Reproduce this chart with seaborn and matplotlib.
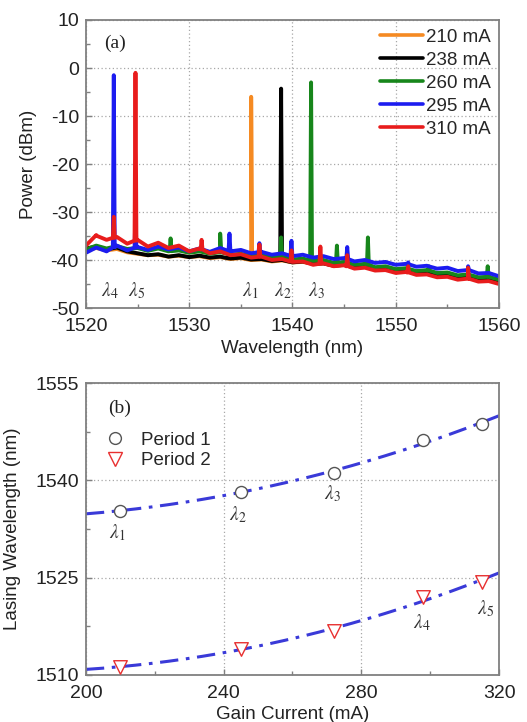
import numpy as np
import pandas as pd
import matplotlib
matplotlib.use('Agg')
import matplotlib.pyplot as plt
from matplotlib.ticker import MultipleLocator, FixedLocator
from matplotlib.lines import Line2D
import seaborn as sns

# ---------------- data: panel (a) spectra ----------------
currents = ['210 mA', '238 mA', '260 mA', '295 mA', '310 mA']
colors = ['#f58a22', '#000000', '#17861b', '#1c1cf0', '#e81c1c']
knot_wl = list(range(1520, 1561))
base_210 = [-37.9, -37.5, -38.0, -37.7, -38.4, -38.7, -39.0, -38.9, -39.3, -39.1,
            -39.4, -39.2, -39.6, -39.4, -39.8, -39.6, -40.0, -39.9, -40.3, -40.1,
            -40.5, -40.4, -40.8, -40.7, -41.2, -41.0, -41.5, -41.4, -41.9, -41.8,
            -42.3, -42.2, -42.7, -42.6, -43.1, -43.0, -43.5, -43.4, -43.9, -43.8, -44.3]
base_238 = [-37.6, -37.2, -37.8, -37.4, -38.2, -38.6, -39.0, -38.8, -39.3, -39.0,
            -39.4, -39.1, -39.5, -39.3, -39.7, -39.5, -39.9, -39.8, -40.2, -40.0,
            -40.5, -40.3, -40.8, -40.7, -41.2, -41.0, -41.6, -41.4, -42.0, -41.9,
            -42.4, -42.3, -42.8, -42.7, -43.2, -43.1, -43.6, -43.5, -44.0, -43.9, -44.5]
base_260 = [-37.8, -37.0, -37.6, -37.1, -37.7, -37.5, -38.1, -37.6, -38.2, -38.0,
            -38.5, -38.2, -38.7, -38.4, -38.9, -38.7, -39.2, -39.0, -39.5, -39.3,
            -39.9, -39.7, -40.2, -40.0, -40.6, -40.4, -41.0, -40.8, -41.5, -41.3,
            -41.9, -41.7, -42.3, -42.1, -42.7, -42.6, -43.2, -43.0, -43.6, -43.5, -44.1]
base_295 = [-38.5, -37.4, -38.2, -37.0, -38.0, -37.3, -37.9, -37.2, -37.8, -37.4,
            -38.2, -37.6, -38.3, -37.5, -38.2, -37.9, -38.6, -38.3, -38.9, -38.6,
            -39.2, -38.9, -39.5, -39.2, -39.8, -39.6, -40.3, -40.0, -40.6, -40.4,
            -41.0, -40.8, -41.4, -41.2, -41.8, -41.6, -42.3, -42.1, -42.8, -42.7, -43.4]
base_310 = [-37.0, -35.0, -35.8, -35.2, -36.6, -35.8, -37.2, -36.4, -37.5, -37.0,
            -38.2, -37.6, -38.6, -38.2, -39.0, -38.8, -39.5, -39.3, -40.0, -39.8,
            -40.4, -40.3, -41.0, -40.7, -41.3, -41.1, -41.8, -41.6, -42.2, -42.1,
            -42.7, -42.5, -43.1, -43.0, -43.6, -43.5, -44.1, -43.9, -44.5, -44.4, -45.0]

peak_wl_210 = [1536.0]
peak_db_210 = [-6.0]
peak_wl_238 = [1533.9, 1538.9]
peak_db_238 = [-37.0, -4.3]
peak_wl_260 = [1528.2, 1533.0, 1538.9, 1541.8, 1544.3, 1547.3, 1553.2, 1558.9]
peak_db_260 = [-35.5, -34.5, -35.3, -3.0, -37.0, -35.3, -41.3, -41.3]
peak_wl_295 = [1522.7, 1524.8, 1533.9, 1536.8, 1539.9, 1545.3, 1551.2, 1557.0]
peak_db_295 = [-1.5, -30.0, -34.5, -36.5, -36.0, -37.3, -40.5, -41.3]
peak_wl_310 = [1521.0, 1522.7, 1524.8, 1531.2, 1536.8, 1539.9, 1542.7, 1545.3, 1551.2, 1557.0]
peak_db_310 = [-34.8, -31.0, -1.0, -35.8, -36.8, -38.0, -37.2, -39.0, -41.3, -41.6]

# ---------------- data: panel (b) ----------------
cur_p1 = [210, 245, 272, 298, 315]
wl_p1 = [1535.35, 1538.2, 1541.2, 1546.15, 1548.7]
cur_p2 = [210, 245, 272, 298, 315]
wl_p2 = [1511.3, 1514.0, 1516.8, 1522.0, 1524.4]
yticks_b = [1510, 1525, 1540, 1555]

bases = [base_210, base_238, base_260, base_295, base_310]
peaks = [(peak_wl_210, peak_db_210), (peak_wl_238, peak_db_238), (peak_wl_260, peak_db_260),
         (peak_wl_295, peak_db_295), (peak_wl_310, peak_db_310)]

rows = []
for lab, base, (pw, pd_) in zip(currents, bases, peaks):
    xs = list(knot_wl)
    ys = list(base)
    hw = 0.09
    for w, p in zip(pw, pd_):
        foot = float(np.interp(w, knot_wl, base))
        xs += [w - hw, w, w + hw]
        ys += [foot, p, foot]
    order = np.argsort(xs, kind='stable')
    for i in order:
        rows.append({'wl': xs[i], 'p': ys[i], 'current': lab})
df = pd.DataFrame(rows)

sns.set_theme(style='white')
plt.rcParams['font.family'] = ['Liberation Sans', 'DejaVu Sans']
plt.rcParams['mathtext.fontset'] = 'stix'
plt.rcParams['axes.unicode_minus'] = False

fig = plt.figure(figsize=(5.27, 7.22), dpi=100)
ax1 = fig.add_axes([0.163, 0.5734, 0.784, 0.3989])
ax2 = fig.add_axes([0.163, 0.0651, 0.784, 0.4044])

frame_col = '#808080'
grid_kw = dict(color='#a8a8a8', linestyle=(0, (1, 2)), linewidth=0.9)

def style_axes(ax):
    for s in ax.spines.values():
        s.set_color(frame_col)
        s.set_linewidth(1.3)
    ax.tick_params(axis='both', which='both', direction='in', colors=frame_col,
                   labelcolor='#222222', labelsize=14, top=False, right=False,
                   bottom=True, left=True)
    ax.tick_params(which='major', length=4, width=1)
    ax.tick_params(which='minor', length=3, width=1)
    ax.tick_params(axis='x', which='major', pad=7)
    ax.tick_params(axis='y', which='major', pad=5)
    ax.grid(True, which='major', **grid_kw)
    ax.set_axisbelow(True)

# ---- panel (a)
sns.lineplot(data=df, x='wl', y='p', hue='current', hue_order=currents,
             palette=colors, estimator=None, sort=False, linewidth=2.8,
             ax=ax1, legend=False)
ax1.set_xlim(1520, 1560)
ax1.set_ylim(-50, 10)
ax1.xaxis.set_major_locator(MultipleLocator(10))
ax1.xaxis.set_minor_locator(MultipleLocator(5))
ax1.yaxis.set_major_locator(MultipleLocator(10))
ax1.yaxis.set_minor_locator(MultipleLocator(5))
style_axes(ax1)
ax1.set_xlabel('Wavelength (nm)', fontsize=13.5, color='#222222', labelpad=4)
ax1.set_ylabel('Power (dBm)', fontsize=13.5, color='#222222', labelpad=10)
handles = [Line2D([0], [0], color=c, lw=2.6) for c in colors]
ax1.legend(handles, currents, loc='upper right', frameon=False, fontsize=13.5,
           handlelength=2.3, handletextpad=0.15, labelspacing=0.32,
           borderaxespad=0.25, borderpad=0.2)
ax1.text(1522.8, 5.2, '(a)', fontsize=14, family='Liberation Serif',
         ha='center', va='center', color='#222222')
lam_a = [(1522.3, r'$\lambda_4$'), (1524.9, r'$\lambda_5$'), (1535.9, r'$\lambda_1$'),
         (1539.1, r'$\lambda_2$'), (1542.3, r'$\lambda_3$')]
for x, t in lam_a:
    ax1.text(x, -46.3, t, fontsize=14, ha='center', va='center', color='#333333')

# ---- panel (b)
dash = (0, (6, 2.5, 1.2, 2.5))
xfit = np.linspace(200, 320, 200)
for cx, wy in [(cur_p1, wl_p1), (cur_p2, wl_p2)]:
    coef = np.polyfit(cx, wy, 2)
    fit_df = pd.DataFrame({'x': xfit, 'y': np.polyval(coef, xfit)})
    sns.lineplot(data=fit_df, x='x', y='y', ax=ax2, color='#3a3ad8',
                 linewidth=2.2, linestyle=dash, legend=False)
sns.scatterplot(x=cur_p1, y=wl_p1, ax=ax2, marker='o', s=75,
                facecolor='white', edgecolor='#555555', linewidth=1.0, zorder=5)
sns.scatterplot(x=cur_p2, y=wl_p2, ax=ax2, marker='v', s=95,
                facecolor='white', edgecolor='#e83030', linewidth=1.0, zorder=5)
ax2.set_xlim(200, 320)
ax2.set_ylim(1510, 1555)
ax2.xaxis.set_major_locator(MultipleLocator(40))
ax2.xaxis.set_minor_locator(MultipleLocator(20))
ax2.yaxis.set_major_locator(FixedLocator(yticks_b))
ax2.yaxis.set_minor_locator(FixedLocator([1517.5, 1532.5, 1547.5]))
style_axes(ax2)
ax2.set_xlabel('Gain Current (mA)', fontsize=13.5, color='#222222', labelpad=3)
ax2.set_ylabel('Lasing Wavelength (nm)', fontsize=13.5, color='#222222', labelpad=10)
leg_h = [Line2D([0], [0], marker='o', ls='none', markersize=8.5, markerfacecolor='white',
                markeredgecolor='#555555', markeredgewidth=1.0),
         Line2D([0], [0], marker='v', ls='none', markersize=9.5, markerfacecolor='white',
                markeredgecolor='#e83030', markeredgewidth=1.0)]
ax2.legend(leg_h, ['Period 1', 'Period 2'], loc='upper left', frameon=False,
           fontsize=13.5, bbox_to_anchor=(0.03, 0.86), handlelength=1.0,
           handletextpad=0.9, labelspacing=0.2, borderaxespad=0.0)
ax2.text(209.9, 1551.1, '(b)', fontsize=14, family='Liberation Serif',
         ha='center', va='center', color='#222222')
lam_b = [(209.0, 1531.9, r'$\lambda_1$'), (244.2, 1534.7, r'$\lambda_2$'),
         (271.5, 1538.0, r'$\lambda_3$'), (297.7, 1518.0, r'$\lambda_4$'),
         (316.0, 1520.3, r'$\lambda_5$')]
for x, y, t in lam_b:
    ax2.text(x, y, t, fontsize=14, ha='center', va='center', color='#333333')

fig.savefig('out.png', dpi=100)
